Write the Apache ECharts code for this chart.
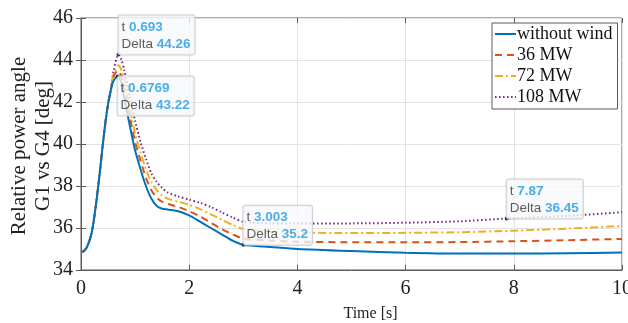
<!DOCTYPE html>
<html><head><meta charset="utf-8">
<script src="https://cdn.jsdelivr.net/npm/echarts@6/dist/echarts.min.js"></script>
<style>html,body{margin:0;padding:0;background:#fff}#c{width:628px;height:323px}</style>
</head><body><div id="c"></div>
<script>
const seriesNames = ['without wind', '36 MW', '72 MW', '108 MW'];
const xTicks = [0, 2, 4, 6, 8, 10];
const yTicks = [34, 36, 38, 40, 42, 44, 46];
const rise = [[0,34.85],[0.05,34.9],[0.1,35.05],[0.15,35.35],[0.2,35.8],[0.25,36.6],[0.3,37.6],[0.35,38.7],[0.4,39.9],[0.45,41.0],[0.5,41.9],[0.55,42.55]];
const noWind = [[0.6,43.0],[0.6769,43.22],[0.75,42.9],[0.8,42.2],[0.9,40.9],[1.0,39.7],[1.1,38.8],[1.2,38.0],[1.3,37.4],[1.4,37.05],[1.5,36.92],[1.6,36.88],[1.8,36.8],[2.0,36.6],[2.2,36.3],[2.4,36.0],[2.6,35.7],[2.8,35.4],[3.003,35.2],[3.5,35.1],[4,35.0],[5,34.9],[6,34.82],[7,34.78],[8,34.78],[9,34.8],[10,34.83]];
const mw36 = [[0.6,43.2],[0.68,43.5],[0.75,43.2],[0.8,42.6],[0.9,41.3],[1.0,40.1],[1.1,39.2],[1.2,38.4],[1.3,37.8],[1.4,37.45],[1.5,37.25],[1.6,37.15],[1.8,37.0],[2.0,36.8],[2.2,36.55],[2.4,36.25],[2.6,35.95],[2.8,35.7],[3.0,35.5],[3.5,35.4],[4,35.35],[5,35.32],[6,35.32],[7,35.33],[8,35.37],[9,35.42],[10,35.48]];
const mw72 = [[0.6,43.3],[0.69,43.75],[0.75,43.5],[0.8,43.0],[0.9,41.7],[1.0,40.5],[1.1,39.6],[1.2,38.8],[1.3,38.2],[1.4,37.8],[1.5,37.55],[1.6,37.4],[1.8,37.25],[2.0,37.1],[2.2,36.9],[2.4,36.65],[2.6,36.4],[2.8,36.15],[3.0,35.95],[3.5,35.82],[4,35.78],[5,35.76],[6,35.77],[7,35.8],[8,35.87],[9,35.97],[10,36.1]];
const mw108 = [[0.6,43.45],[0.693,44.26],[0.75,44.0],[0.8,43.5],[0.9,42.3],[1.0,41.1],[1.1,40.1],[1.2,39.3],[1.3,38.6],[1.4,38.2],[1.5,37.9],[1.6,37.7],[1.8,37.5],[2.0,37.35],[2.2,37.2],[2.4,37.0],[2.6,36.75],[2.8,36.5],[3.0,36.3],[3.5,36.22],[4,36.22],[5,36.22],[6,36.25],[7,36.32],[7.87,36.45],[9,36.58],[10,36.75]];
const tips = [
  {s: 3, t: 0.693, v: 44.26, pos: 'up'},
  {s: 0, t: 0.6769, v: 43.22, pos: 'down'},
  {s: 0, t: 3.003, v: 35.2, pos: 'up'},
  {s: 3, t: 7.87, v: 36.45, pos: 'up'}
];
const colors = ['#0072BD', '#D95319', '#EDB120', '#7E2F8E'];
const dashes = ['solid', [7, 5], [8, 3, 2, 3], [1.6, 2.4]];
const allData = [rise.concat(noWind), rise.concat(mw36), rise.concat(mw72), rise.concat(mw108)];

const serif = 'Liberation Serif';
const chart = echarts.init(document.getElementById('c'));
const series = seriesNames.map((n, i) => ({
  name: n, type: 'line', data: allData[i], showSymbol: false, symbol: 'none', smooth: 0.25,
  lineStyle: {color: colors[i], width: 2, type: dashes[i]}, itemStyle: {color: colors[i]},
  z: 10 - i, animation: false
}));
series.push({
  name: 'tips', type: 'scatter', data: tips.map(d => ({
      value: [d.t, d.v],
      label: {
        show: true, position: [2, 2], align: 'left', verticalAlign: d.pos === 'up' ? 'bottom' : 'top',
        formatter: '{k|t }{v|' + d.t + '}\n{k|Delta }{v|' + d.v + '}',
        backgroundColor: 'rgba(251,252,254,0.97)', borderColor: '#c9ccd2', borderWidth: 1, borderRadius: 2,
        padding: [3, 4, 2, 3], shadowColor: 'rgba(0,0,0,0.08)', shadowBlur: 2,
        rich: {
          k: {fontFamily: 'Liberation Sans', fontSize: 13.5, color: '#333', lineHeight: 17},
          v: {fontFamily: 'Liberation Sans', fontSize: 13.5, fontWeight: 'bold', color: '#1a9be6', lineHeight: 17}
        }
      }
  })),
  symbol: 'circle', symbolSize: 4, itemStyle: {color: '#111'}, z: 30, animation: false, silent: true
});
const axisGray = '#5a5a5a';
chart.setOption({
  animation: false,
  grid: {left: 81, right: 6, top: 18, bottom: 53, show: true, borderColor: axisGray, borderWidth: 1, outerBoundsMode: 'none', containLabel: false},
  legend: {
    data: seriesNames, orient: 'vertical', left: 492, top: 23, itemWidth: 21, itemHeight: 12, itemGap: 3,
    padding: [2, 5, 3, 2], backgroundColor: '#fff', borderColor: axisGray, borderWidth: 1,
    itemStyle: {opacity: 0},
    textStyle: {fontFamily: serif, fontSize: 18, color: '#111', padding: [0, 0, 0, -4], lineHeight: 18},
    z: 20
  },
  xAxis: [
    {type: 'value', min: 0, max: 10, interval: 2,
     axisLine: {show: true, lineStyle: {color: axisGray}}, axisTick: {inside: true, length: 5, lineStyle: {color: axisGray}},
     axisLabel: {fontFamily: serif, fontSize: 20, color: '#222', margin: 9, formatter: v => xTicks.includes(v) ? String(v) : ''},
     splitLine: {show: true, lineStyle: {color: '#e3e3e3'}},
     name: 'Time [s]', nameLocation: 'middle', nameGap: 36, nameTextStyle: {fontFamily: serif, fontSize: 16, color: '#222', padding: [0, 0, 0, 38]}},
    {type: 'value', min: 0, max: 10, interval: 2, position: 'top',
     axisLine: {show: false}, axisTick: {inside: true, length: 5, lineStyle: {color: axisGray}}, axisLabel: {show: false}, splitLine: {show: false}}
  ],
  yAxis: [
    {type: 'value', min: 34, max: 46, interval: 2,
     axisLine: {show: true, lineStyle: {color: axisGray}}, axisTick: {show: true, inside: true, length: 5, lineStyle: {color: axisGray}},
     axisLabel: {fontFamily: serif, fontSize: 20, color: '#222', margin: 8, formatter: v => yTicks.includes(v) ? String(v) : ''},
     splitLine: {show: true, lineStyle: {color: '#e3e3e3'}}},
    {type: 'value', min: 34, max: 46, interval: 2, position: 'right',
     axisLine: {show: false}, axisTick: {show: true, inside: true, length: 5, lineStyle: {color: axisGray}}, axisLabel: {show: false}, splitLine: {show: false}}
  ],
  graphic: [
    {type: 'text', x: 19, y: 146, rotation: Math.PI / 2,
     style: {text: 'Relative power angle', fontFamily: serif, fontSize: 21, fill: '#222', align: 'center', verticalAlign: 'middle'}},
    {type: 'text', x: 43, y: 146, rotation: Math.PI / 2,
     style: {text: 'G1 vs G4 [deg]', fontFamily: serif, fontSize: 21, fill: '#222', align: 'center', verticalAlign: 'middle'}}
  ],
  series: series
});
</script></body></html>
